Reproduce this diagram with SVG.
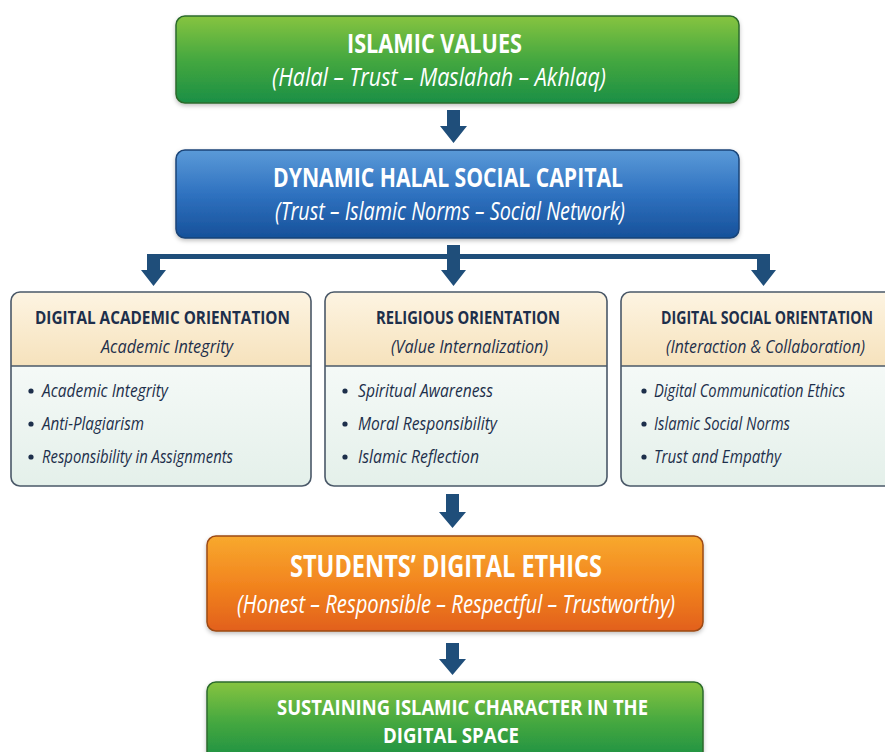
<svg xmlns="http://www.w3.org/2000/svg" width="885" height="752" viewBox="0 0 885 752">
  <defs>
    <linearGradient id="gGreen" x1="0" y1="0" x2="0" y2="1">
      <stop offset="0" stop-color="#86c440"/>
      <stop offset="0.5" stop-color="#45a83f"/>
      <stop offset="1" stop-color="#1b8f45"/>
    </linearGradient>
    <linearGradient id="gBlue" x1="0" y1="0" x2="0" y2="1">
      <stop offset="0" stop-color="#5b9ad8"/>
      <stop offset="0.5" stop-color="#2f72c0"/>
      <stop offset="1" stop-color="#17519a"/>
    </linearGradient>
    <linearGradient id="gOrange" x1="0" y1="0" x2="0" y2="1">
      <stop offset="0" stop-color="#f8a92e"/>
      <stop offset="0.5" stop-color="#f2851f"/>
      <stop offset="1" stop-color="#e2601a"/>
    </linearGradient>
    <linearGradient id="gHead" x1="0" y1="0" x2="0" y2="1">
      <stop offset="0" stop-color="#fdf4e2"/>
      <stop offset="1" stop-color="#f6e2bc"/>
    </linearGradient>
    <linearGradient id="gBody" x1="0" y1="0" x2="0" y2="1">
      <stop offset="0" stop-color="#ffffff"/>
      <stop offset="1" stop-color="#e4f0ea"/>
    </linearGradient>
    <filter id="shadow" x="-5%" y="-10%" width="110%" height="130%">
      <feDropShadow dx="0" dy="2" stdDeviation="2" flood-color="#000" flood-opacity="0.25"/>
    </filter>
    <clipPath id="clipA"><rect x="11" y="292" width="300" height="194" rx="9"/></clipPath>
    <clipPath id="clipB"><rect x="325" y="292" width="282" height="194" rx="9"/></clipPath>
    <clipPath id="clipC"><rect x="621" y="292" width="280" height="194" rx="9"/></clipPath>
  </defs>
  <style>
    .t { font-family: "Open Sans", "Liberation Sans", sans-serif; }
    .wt { fill: #ffffff; font-weight: bold; text-anchor: middle; }
    .ws { fill: #ffffff; font-style: italic; text-anchor: middle; }
    .ht { fill: #1d2f4b; font-weight: bold; text-anchor: middle; font-size: 18.5px; }
    .hs { fill: #1d2f4b; font-style: italic; text-anchor: middle; font-size: 19px; }
    .bl { fill: #1d2f4b; font-style: italic; font-size: 19px; }
    .dot { fill: #1d2f4b; }
    .arrow { fill: #1f4e7a; }
    .card { stroke: #4a5868; stroke-width: 1.6; fill: none; }
  </style>

  <!-- connectors -->
  <g id="connectors">
    <polygon class="arrow" points="447,110 460,110 460,126 467,126 453.5,143 440,126 447,126"/>
    <rect class="arrow" x="147" y="254" width="623" height="5"/>
    <polygon class="arrow" points="147,254 160,254 160,270 166,270 153.5,286 141,270 147,270"/>
    <polygon class="arrow" points="447,245 460,245 460,270 466,270 453.5,286 441,270 447,270"/>
    <polygon class="arrow" points="757,254 770,254 770,270 776,270 763.5,286 751,270 757,270"/>
    <polygon class="arrow" points="446,494 459,494 459,512 466,512 452.5,528 439,512 446,512"/>
    <polygon class="arrow" points="446,643 459,643 459,659 466,659 452.5,675 439,659 446,659"/>
  </g>

  <!-- Islamic values -->
  <g id="islamic-values">
    <rect x="176" y="16" width="563" height="87" rx="9" fill="url(#gGreen)" stroke="#2c6b2c" stroke-width="1.5" filter="url(#shadow)"/>
    <text class="t wt" x="434.5" y="53" font-size="26" textLength="175" lengthAdjust="spacingAndGlyphs">ISLAMIC VALUES</text>
    <text class="t ws" x="439" y="86" font-size="25" textLength="334" lengthAdjust="spacingAndGlyphs">(Halal – Trust – Maslahah – Akhlaq)</text>
  </g>

  <!-- Dynamic halal social capital -->
  <g id="social-capital">
    <rect x="176" y="150" width="563" height="88" rx="9" fill="url(#gBlue)" stroke="#1a4478" stroke-width="1.5" filter="url(#shadow)"/>
    <text class="t wt" x="448" y="187" font-size="26" textLength="350" lengthAdjust="spacingAndGlyphs">DYNAMIC HALAL SOCIAL CAPITAL</text>
    <text class="t ws" x="450" y="220" font-size="25" textLength="350" lengthAdjust="spacingAndGlyphs">(Trust – Islamic Norms – Social Network)</text>
  </g>

  <!-- Digital academic orientation -->
  <g id="academic-orientation">
    <g clip-path="url(#clipA)" filter="url(#shadow)">
      <rect x="11" y="292" width="300" height="194" fill="url(#gBody)"/>
      <rect x="11" y="292" width="300" height="74" fill="url(#gHead)"/>
    </g>
    <line x1="11" y1="366" x2="311" y2="366" stroke="#4a5868" stroke-width="1.5"/>
    <rect class="card" x="11" y="292" width="300" height="194" rx="9"/>
    <text class="t ht" x="162.5" y="324" textLength="255" lengthAdjust="spacingAndGlyphs">DIGITAL ACADEMIC ORIENTATION</text>
    <text class="t hs" x="167" y="353" textLength="132" lengthAdjust="spacingAndGlyphs">Academic Integrity</text>
    <circle class="dot" cx="31" cy="391" r="2.6"/>
    <text class="t bl" x="42" y="397" textLength="126" lengthAdjust="spacingAndGlyphs">Academic Integrity</text>
    <circle class="dot" cx="31" cy="424" r="2.6"/>
    <text class="t bl" x="42" y="430" textLength="102" lengthAdjust="spacingAndGlyphs">Anti-Plagiarism</text>
    <circle class="dot" cx="31" cy="457" r="2.6"/>
    <text class="t bl" x="42" y="463" textLength="191" lengthAdjust="spacingAndGlyphs">Responsibility in Assignments</text>
  </g>

  <!-- Religious orientation -->
  <g id="religious-orientation">
    <g clip-path="url(#clipB)" filter="url(#shadow)">
      <rect x="325" y="292" width="282" height="194" fill="url(#gBody)"/>
      <rect x="325" y="292" width="282" height="74" fill="url(#gHead)"/>
    </g>
    <line x1="325" y1="366" x2="607" y2="366" stroke="#4a5868" stroke-width="1.5"/>
    <rect class="card" x="325" y="292" width="282" height="194" rx="9"/>
    <text class="t ht" x="468" y="324" textLength="184" lengthAdjust="spacingAndGlyphs">RELIGIOUS ORIENTATION</text>
    <text class="t hs" x="469.5" y="353" textLength="157" lengthAdjust="spacingAndGlyphs">(Value Internalization)</text>
    <circle class="dot" cx="345" cy="391" r="2.6"/>
    <text class="t bl" x="358" y="397" textLength="135" lengthAdjust="spacingAndGlyphs">Spiritual Awareness</text>
    <circle class="dot" cx="345" cy="424" r="2.6"/>
    <text class="t bl" x="358" y="430" textLength="139" lengthAdjust="spacingAndGlyphs">Moral Responsibility</text>
    <circle class="dot" cx="345" cy="457" r="2.6"/>
    <text class="t bl" x="358" y="463" textLength="121" lengthAdjust="spacingAndGlyphs">Islamic Reflection</text>
  </g>

  <!-- Digital social orientation -->
  <g id="social-orientation">
    <g clip-path="url(#clipC)" filter="url(#shadow)">
      <rect x="621" y="292" width="280" height="194" fill="url(#gBody)"/>
      <rect x="621" y="292" width="280" height="74" fill="url(#gHead)"/>
    </g>
    <line x1="621" y1="366" x2="885" y2="366" stroke="#4a5868" stroke-width="1.5"/>
    <rect class="card" x="621" y="292" width="280" height="194" rx="9"/>
    <text class="t ht" x="767" y="324" textLength="212" lengthAdjust="spacingAndGlyphs">DIGITAL SOCIAL ORIENTATION</text>
    <text class="t hs" x="765.5" y="353" textLength="199" lengthAdjust="spacingAndGlyphs">(Interaction &amp; Collaboration)</text>
    <circle class="dot" cx="644" cy="391" r="2.6"/>
    <text class="t bl" x="654" y="397" textLength="191" lengthAdjust="spacingAndGlyphs">Digital Communication Ethics</text>
    <circle class="dot" cx="644" cy="424" r="2.6"/>
    <text class="t bl" x="654" y="430" textLength="136" lengthAdjust="spacingAndGlyphs">Islamic Social Norms</text>
    <circle class="dot" cx="644" cy="457" r="2.6"/>
    <text class="t bl" x="654" y="463" textLength="127" lengthAdjust="spacingAndGlyphs">Trust and Empathy</text>
  </g>

  <!-- Students' digital ethics -->
  <g id="digital-ethics">
    <rect x="207" y="536" width="496" height="95" rx="9" fill="url(#gOrange)" stroke="#9c4a16" stroke-width="1.5" filter="url(#shadow)"/>
    <text class="t wt" x="446" y="577" font-size="30" textLength="312" lengthAdjust="spacingAndGlyphs">STUDENTS’ DIGITAL ETHICS</text>
    <text class="t ws" x="456" y="613" font-size="25" textLength="438" lengthAdjust="spacingAndGlyphs">(Honest – Responsible – Respectful – Trustworthy)</text>
  </g>

  <!-- Sustaining Islamic character -->
  <g id="islamic-character">
    <rect x="207" y="682" width="496" height="80" rx="9" fill="url(#gGreen)" stroke="#2c6b2c" stroke-width="1.5" filter="url(#shadow)"/>
    <text class="t wt" x="462.5" y="715" font-size="22" textLength="371" lengthAdjust="spacingAndGlyphs">SUSTAINING  ISLAMIC CHARACTER IN THE</text>
    <text class="t wt" x="451" y="743" font-size="22" textLength="136" lengthAdjust="spacingAndGlyphs">DIGITAL SPACE</text>
  </g>
</svg>
